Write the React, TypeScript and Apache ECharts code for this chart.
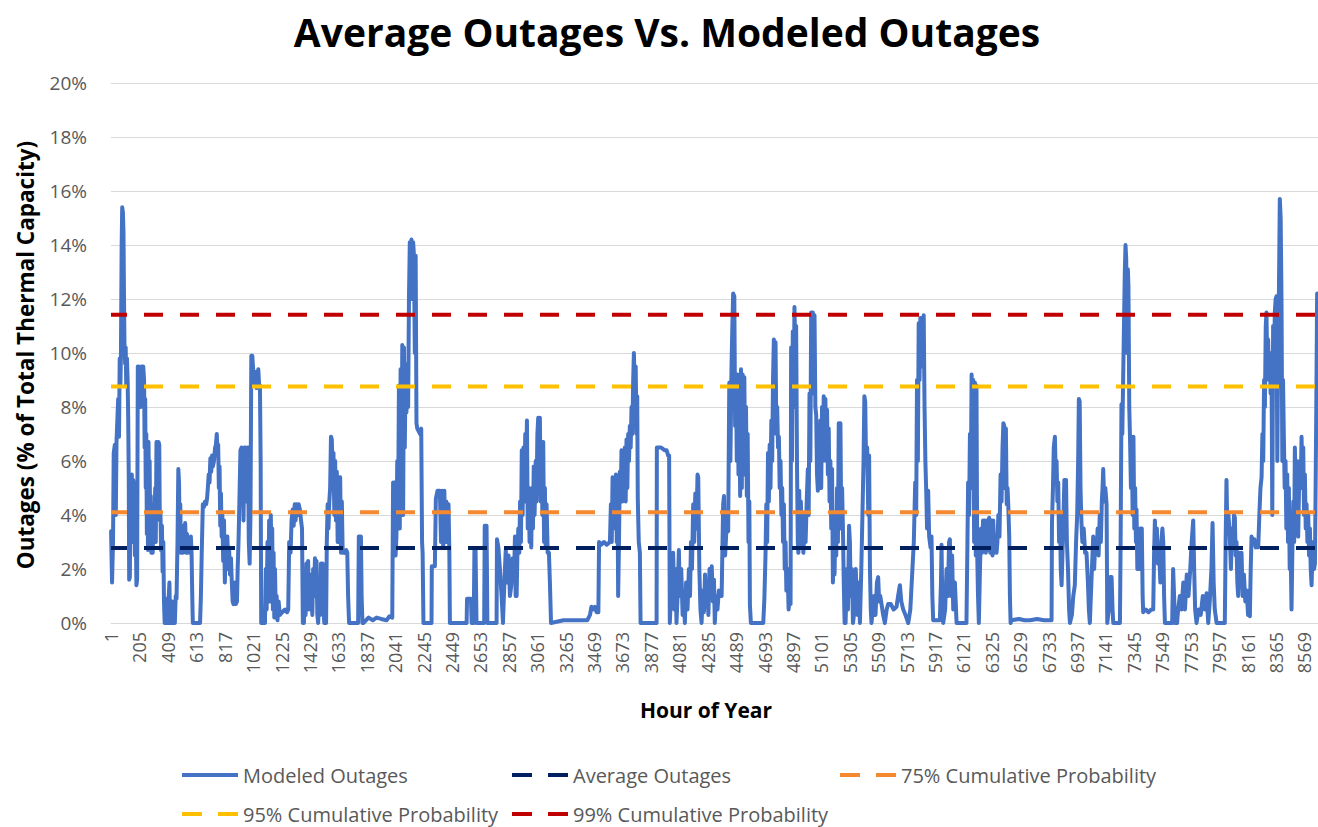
import React, { useEffect, useRef } from "react";
import * as echarts from "echarts";

// Modeled outages: [hour of year, % of total thermal capacity]
const modeledOutages: [number, number][] = [
  [1,3.4],[8,1.5],[15,3.0],[20,6.3],[28,6.6],[35,4.0],[40,6.7],[46,7.5],[52,8.3],[58,6.9],[63,9.8],[68,8.8],[72,10.0],[77,14.0],[81,15.4],[86,15.2],[90,14.5],[94,12.0],[97,10.4],[102,9.6],[106,10.2],[110,8.8],[115,9.8],[120,9.0],[124,7.6],[128,5.4],[131,1.6],[136,1.7],[140,5.5],[145,4.2],[150,5.5],[155,3.0],[160,5.3],[166,5.0],[172,2.5],[178,3.8],[183,1.4],[188,1.6],[193,9.5],[200,9.5],[208,9.3],[214,8.0],[219,9.5],[226,8.3],[232,9.5],[238,9.0],[242,6.5],[246,8.3],[250,5.0],[254,7.0],[258,3.3],[262,6.6],[266,2.7],[270,6.7],[274,4.0],[278,6.0],[282,3.0],[286,4.7],[290,2.6],[296,3.5],[300,2.6],[306,4.4],[312,3.4],[318,5.0],[322,3.0],[327,6.7],[333,6.7],[338,4.5],[342,6.7],[347,6.6],[351,3.8],[356,4.0],[360,2.7],[366,3.6],[371,1.9],[376,3.0],[381,0.8],[386,0],
  [400,0.9],[405,0],[420,1.5],[425,0],[440,0.8],[445,0],[459,0],[465,1.0],[471,0.9],[478,3.0],[484,5.7],[489,5.2],[494,3.0],[498,4.4],[502,2.6],[510,3.3],[516,2.6],[522,3.6],[528,3.1],[533,3.7],[540,2.6],[546,3.3],[552,2.6],[558,3.0],[566,2.6],[574,3.2],[579,2.6],[584,1.0],[588,0],[640,0],[646,1.0],[652,2.6],[660,4.4],[668,4.3],[676,4.5],[684,4.4],[690,4.6],[696,5.0],[702,5.5],[708,5.2],[714,6.1],[720,5.6],[726,6.2],[732,5.8],[740,6.0],[748,6.5],[754,6.6],[760,7.0],[765,6.4],[770,6.6],[775,5.0],[780,5.8],[785,3.6],[790,4.8],[795,3.2],[800,4.0],[806,2.3],[812,3.8],[818,1.5],[824,3.2],[830,2.5],[836,3.2],[842,2.0],[848,2.8],[855,1.8],[862,2.4],[868,1.5],[874,0.8],[880,0.7],[890,1.5],[897,0.7],[905,0.8],[910,2.0],[916,3.0],[922,4.4],[930,6.4],[938,6.5],[946,6.4],[952,3.8],[958,6.5],[965,6.5],[972,4.5],[978,6.4],[984,6.5],[990,3.0],[996,2.2],[1002,4.0],[1008,9.9],[1015,9.9],[1020,9.5],[1026,9.0],[1032,8.8],[1040,9.3],[1046,8.7],[1052,8.8],[1058,9.4],[1064,8.8],[1070,8.8],[1075,6.0],[1079,0],
  [1106,0],[1112,2.0],[1118,0.5],[1124,3.0],[1130,1.0],[1136,3.8],[1142,0.8],[1148,4.0],[1153,2.0],[1158,3.5],[1163,0.5],[1168,2.6],[1173,0.2],[1178,2.0],[1184,0.2],[1190,1.0],[1196,0.1],[1204,0.8],[1213,0.3],[1230,0.4],[1250,0.5],[1265,0.4],[1273,0.5],[1280,3.0],[1290,2.6],[1297,3.8],[1305,4.2],[1312,3.6],[1320,4.4],[1326,3.8],[1333,4.4],[1340,4.0],[1348,4.4],[1357,4.2],[1365,3.8],[1372,3.5],[1378,0],[1386,0],[1392,1.5],[1398,0.3],[1404,2.2],[1410,1.0],[1416,2.3],[1422,0.5],[1428,1.8],[1433,0.7],[1440,1.5],[1446,0.3],[1452,2.0],[1458,1.0],[1465,2.4],[1470,1.0],[1476,2.3],[1482,0.3],[1488,0],[1496,1.0],[1502,0.3],[1508,2.2],[1514,1.5],[1520,2.2],[1526,0.5],[1532,0],[1545,0],[1550,3.0],[1556,4.4],[1562,3.5],[1568,4.5],[1574,5.0],[1580,6.9],[1586,6.8],[1592,5.5],[1598,6.3],[1604,4.0],[1610,6.0],[1616,3.8],[1622,5.6],[1628,3.0],[1634,5.4],[1640,3.2],[1646,5.4],[1652,2.6],[1658,4.5],[1664,2.6],[1670,2.7],[1680,2.6],[1690,2.7],[1697,2.6],[1703,1.0],[1710,0],[1775,0],[1780,3.2],[1795,3.2],[1800,1.0],[1806,0],[1812,0],[1850,0.2],[1880,0.1],[1907,0.2],[1940,0.15],[1979,0.1],[2000,0.25],[2020,0.2],[2026,5.2],[2032,3.0],[2038,5.2],[2044,2.5],[2050,3.2],[2056,6.0],[2062,4.0],[2068,8.8],[2074,3.5],[2080,9.4],[2086,5.0],[2092,10.3],[2098,4.0],[2104,10.2],[2110,6.5],[2116,9.4],[2122,7.8],[2128,9.6],[2134,8.0],[2140,12.0],[2146,14.1],[2152,13.5],[2158,14.2],[2164,12.0],[2170,14.1],[2176,13.6],[2182,10.0],[2188,13.6],[2194,7.4],[2200,7.2],[2210,7.1],[2220,7.0],[2228,7.2],[2234,3.0],[2238,2.6],[2244,0],
  [2302,0],[2304,2.1],[2326,2.1],[2333,4.6],[2345,4.9],[2362,4.9],[2370,3.0],[2378,4.9],[2386,2.8],[2394,4.9],[2400,3.0],[2408,4.5],[2416,3.0],[2424,4.4],[2430,2.6],[2434,0],[2554,0],[2557,0.9],[2585,0.9],[2590,0],[2605,0],[2610,2.7],[2618,2.7],[2625,0],[2680,0],[2684,3.6],[2697,3.6],[2703,0],[2769,0],[2772,3.1],[2782,2.8],[2793,2.0],[2805,1.0],[2815,0],[2825,1.5],[2835,2.7],[2845,1.5],[2855,2.5],[2865,1.0],[2875,1.4],[2885,2.4],[2895,1.8],[2901,3.2],[2906,1.0],[2913,1.0],[2918,2.4],[2925,3.5],[2932,2.6],[2938,4.5],[2944,3.0],[2950,6.4],[2956,4.0],[2962,6.5],[2968,4.5],[2975,7.0],[2981,5.5],[2987,7.5],[2993,3.5],[3000,5.0],[3006,3.0],[3012,4.4],[3018,2.8],[3024,5.0],[3030,3.5],[3036,5.8],[3042,4.0],[3050,6.0],[3056,4.5],[3062,7.0],[3068,7.6],[3074,5.0],[3080,7.6],[3086,4.5],[3092,6.7],[3098,4.0],[3104,6.7],[3110,3.0],[3116,5.0],[3122,2.8],[3128,4.4],[3136,2.6],[3145,2.6],[3152,1.5],[3160,0],[3250,0.1],[3350,0.1],[3420,0.1],[3440,0.3],[3450,0.6],[3460,0.5],[3475,0.6],[3487,0.4],[3500,0.4],[3505,3.0],[3520,2.9],[3540,3.0],[3560,2.9],[3583,3.0],[3590,4.4],[3596,3.0],[3602,5.4],[3608,3.5],[3614,5.0],[3620,4.0],[3626,5.5],[3632,3.0],[3638,4.5],[3642,1.0],[3648,3.0],[3654,5.6],[3660,4.5],[3666,6.4],[3672,4.5],[3678,6.0],[3684,5.0],[3690,6.5],[3696,4.5],[3702,6.8],[3708,5.0],[3714,7.0],[3720,6.0],[3726,7.3],[3732,6.5],[3738,8.0],[3744,7.0],[3750,9.0],[3755,10.0],[3762,8.5],[3768,9.5],[3774,7.0],[3779,8.4],[3783,4.6],[3790,3.0],[3798,2.6],[3803,0],[3918,0],[3920,6.5],[3950,6.5],[3975,6.4],[3990,6.4],[4001,6.2],[4008,6.2],[4013,0],[4025,1.5],[4037,2.6],[4045,0.5],[4053,2.0],[4061,0],[4070,1.2],[4078,2.7],[4085,1.0],[4095,2.0],[4105,0.3],[4112,1.0],[4121,0],[4130,1.5],[4140,0.5],[4150,2.0],[4158,1.0],[4165,3.0],[4172,2.0],[4181,4.4],[4188,3.0],[4196,4.8],[4204,3.5],[4212,5.5],[4217,5.4],[4225,2.0],[4233,0.5],[4241,0],[4250,1.2],[4258,0.4],[4266,1.8],[4274,0.6],[4282,1.5],[4290,0.3],[4298,2.0],[4306,1.0],[4314,2.1],[4322,0.8],[4330,1.6],[4336,0],[4345,1.0],[4355,0.5],[4365,1.2],[4373,1.0],[4385,1.0],[4396,4.4],[4402,4.7],[4410,2.5],[4420,3.5],[4432,3.4],
  [4440,8.9],[4448,6.0],[4456,9.5],[4462,11.0],[4468,12.2],[4476,12.1],[4482,7.3],[4488,9.0],[4494,6.0],[4500,9.2],[4506,5.5],[4512,8.5],[4518,4.7],[4524,9.4],[4530,5.0],[4536,9.2],[4542,6.0],[4548,9.1],[4554,5.5],[4560,8.0],[4566,4.7],[4572,7.0],[4578,3.0],[4584,4.5],[4588,0.7],[4595,0],[4684,0],[4692,0.9],[4700,2.5],[4706,4.4],[4712,3.0],[4718,6.3],[4724,4.5],[4730,6.6],[4736,5.0],[4742,7.5],[4748,6.0],[4754,9.0],[4760,10.5],[4766,8.0],[4772,10.4],[4778,7.0],[4784,8.0],[4790,6.5],[4796,6.9],[4802,5.0],[4808,6.0],[4814,4.0],[4820,5.0],[4826,3.0],[4832,4.4],[4838,2.0],[4844,3.0],[4850,1.2],[4858,2.0],[4866,0.5],[4874,1.0],[4880,0.7],[4884,10.2],[4890,6.0],[4896,10.8],[4902,8.0],[4908,11.7],[4914,10.0],[4920,11.0],[4926,6.0],[4932,3.0],[4936,2.6],[4942,4.9],[4948,3.0],[4954,4.5],[4960,2.8],[4966,4.0],[4972,2.6],[4980,3.5],[4988,3.0],[4996,4.5],[5004,5.7],[5010,4.0],[5016,8.5],[5022,6.0],[5028,11.5],[5034,9.0],[5040,11.5],[5046,8.5],[5052,11.4],[5058,8.0],[5064,7.7],[5070,5.5],[5076,4.9],[5082,6.5],[5088,5.0],[5094,7.5],[5100,5.0],[5106,8.0],[5112,6.0],[5118,8.4],[5124,6.5],[5130,8.3],[5136,6.0],[5142,7.9],[5148,5.5],[5154,7.2],[5160,4.5],[5166,6.0],[5172,3.5],[5178,5.7],[5184,1.5],[5190,3.0],[5196,1.8],[5202,4.0],[5208,2.5],[5214,5.0],[5220,3.0],[5226,7.4],[5232,5.0],[5238,7.4],[5244,3.5],[5250,5.0],[5256,3.5],[5262,1.5],[5268,0],[5275,0],[5285,2.0],[5292,0.5],[5300,3.6],[5306,3.0],[5312,1.0],[5320,2.0],[5328,0],[5340,0.5],[5348,2.0],[5355,1.0],[5362,0.3],[5370,1.5],[5378,0],[5388,2.0],[5396,4.0],[5404,6.0],[5410,8.4],[5416,8.2],[5422,6.0],[5430,6.5],[5438,4.0],[5444,6.2],[5450,2.0],[5456,0.5],[5461,0],[5470,0.5],[5480,1.0],[5490,0.3],[5500,1.5],[5509,1.7],[5516,0.8],[5524,1.0],[5533,0.7],[5545,0.3],[5557,0],[5570,0.5],[5581,0.7],[5600,0.7],[5620,0.5],[5641,0.6],[5652,1.0],[5665,1.4],[5675,0.8],[5689,0.5],[5705,0.3],[5725,0],[5740,0.5],[5755,2.0],[5765,3.0],[5775,5.2],[5782,4.0],[5788,9.0],[5794,6.0],[5800,11.1],[5806,9.0],[5812,11.3],[5818,9.5],[5824,11.3],[5830,10.0],[5836,11.4],[5842,8.0],[5848,6.0],[5854,4.9],[5860,3.5],[5868,4.9],[5875,3.2],[5885,2.8],[5892,3.2],[5898,1.0],[5904,0.1],[5952,0.1],[5960,1.5],[5964,2.9],[5970,0.5],[5976,0],[5990,0.5],[6000,2.0],[6010,1.0],[6018,3.0],[6024,3.1],[6032,1.0],[6040,2.5],[6048,0.5],[6060,1.5],[6072,0],[6143,0],[6150,3.0],[6155,5.2],[6162,4.0],[6168,7.0],[6174,5.0],[6180,9.2],[6186,7.0],[6192,9.0],[6198,3.0],[6204,8.9],[6210,2.5],[6215,8.8],[6220,2.6],[6226,1.0],[6232,0],[6240,2.0],[6248,3.5],[6255,2.6],[6262,3.8],[6268,2.8],[6275,3.8],[6282,2.6],[6290,3.8],[6298,2.7],[6306,3.9],[6314,2.6],[6322,3.8],[6330,2.5],[6335,3.8],[6342,2.6],[6350,3.0],[6359,2.6],[6365,3.0],[6372,4.0],[6380,3.2],[6388,5.5],[6395,4.5],[6402,6.5],[6408,7.4],[6414,7.3],[6420,5.0],[6426,7.2],[6432,4.4],[6438,5.0],[6443,4.4],[6450,3.2],[6455,1.0],[6460,0],
  [6467,0.1],[6520,0.15],[6560,0.1],[6600,0.1],[6650,0.15],[6700,0.1],[6754,0.1],[6757,3.7],[6764,5.0],[6770,6.5],[6778,6.9],[6784,5.5],[6790,6.0],[6796,4.5],[6802,5.2],[6808,3.0],[6815,4.0],[6820,2.0],[6826,1.4],[6832,2.5],[6840,4.0],[6846,5.3],[6852,4.0],[6858,5.3],[6864,3.0],[6872,2.0],[6880,0.5],[6886,0],[6900,0.3],[6910,1.0],[6921,1.4],[6930,3.0],[6938,4.0],[6945,6.0],[6950,8.3],[6956,8.2],[6962,5.0],[6968,3.8],[6975,3.0],[6985,3.5],[6995,2.6],[7005,2.6],[7015,1.5],[7022,0.5],[7029,0],[7040,1.5],[7053,3.2],[7060,2.0],[7068,3.0],[7077,2.6],[7085,3.5],[7092,2.5],[7100,4.0],[7108,3.0],[7115,4.5],[7120,5.0],[7125,5.7],[7132,4.5],[7140,5.0],[7149,4.4],[7152,2.0],[7154,0],[7165,0.5],[7175,1.7],[7185,1.7],[7192,0.5],[7197,0],[7245,0],[7250,3.0],[7256,8.1],[7262,7.0],[7268,9.0],[7274,11.0],[7280,13.0],[7285,14.0],[7290,13.5],[7296,10.0],[7302,13.1],[7306,12.5],[7312,8.0],[7318,6.7],[7324,5.0],[7330,6.9],[7336,4.0],[7342,6.9],[7348,3.5],[7354,5.0],[7360,3.0],[7364,4.2],[7370,2.0],[7376,2.8],[7382,2.0],[7390,3.5],[7396,2.5],[7402,3.5],[7408,1.0],[7412,0.4],[7430,0.5],[7450,0.4],[7470,0.5],[7484,0.5],[7490,2.5],[7496,3.8],[7503,2.6],[7510,3.5],[7518,2.2],[7527,2.6],[7535,1.5],[7542,3.0],[7550,3.5],[7556,3.0],[7562,1.0],[7568,0],[7620,0],[7627,2.0],[7634,1.0],[7640,0],[7655,0],[7663,0.5],[7675,1.0],[7687,0.5],[7700,1.5],[7712,0.5],[7725,1.8],[7737,1.0],[7750,2.0],[7760,3.0],[7771,3.8],[7778,2.0],[7785,0.5],[7795,0],[7810,0.5],[7825,0.3],[7840,1.0],[7855,0.5],[7867,1.1],[7879,0],[7890,0.8],[7902,2.0],[7910,3.7],[7918,1.5],[7926,0.5],[7939,0],[7998,0],[8004,3.0],[8010,5.3],[8016,3.5],[8024,4.0],[8034,3.2],[8042,2.0],[8050,3.5],[8058,2.8],[8064,4.0],[8070,3.9],[8076,2.5],[8082,3.0],[8088,1.5],[8094,1.0],[8100,2.0],[8106,2.6],[8112,1.5],[8118,2.6],[8126,1.0],[8135,1.8],[8145,0.8],[8155,1.2],[8165,0.3],[8172,1.0],[8178,0.25],[8184,2.0],[8190,3.2],[8200,3.0],[8210,3.1],[8220,2.8],[8230,3.0],[8238,2.8],[8246,4.0],[8254,5.0],[8262,5.4],[8268,7.0],[8274,6.0],[8280,9.0],[8286,8.0],[8292,11.0],[8297,11.5],[8303,9.5],[8309,10.5],[8315,9.0],[8321,10.0],[8327,8.5],[8333,9.9],[8339,4.0],[8345,11.0],[8351,9.0],[8357,11.5],[8363,12.0],[8369,12.1],[8375,6.0],[8381,10.0],[8387,12.5],[8393,15.7],[8399,15.0],[8405,12.0],[8411,6.0],[8416,9.0],[8422,6.9],[8428,5.0],[8434,6.0],[8440,3.5],[8446,5.5],[8452,3.0],[8458,5.0],[8464,2.0],[8470,3.0],[8477,0.5],[8484,3.0],[8490,4.5],[8496,3.0],[8501,6.5],[8507,5.0],[8513,6.0],[8519,4.0],[8525,3.2],[8531,5.0],[8537,6.0],[8543,5.0],[8549,6.9],[8555,5.5],[8561,6.5],[8567,4.0],[8573,5.5],[8579,3.5],[8585,4.4],[8591,3.0],[8597,4.0],[8603,2.5],[8609,3.5],[8615,2.0],[8621,1.4],[8627,2.5],[8633,3.0],[8639,2.0],[8645,2.2],[8650,5.0],[8655,8.0],[8661,12.2],[8666,12.0]
];

const averageOutages = 2.78;
const cumulative75 = 4.1;
const cumulative95 = 8.76;
const cumulative99 = 11.42;

const xTickLabels = [
  1, 205, 409, 613, 817, 1021, 1225, 1429, 1633, 1837, 2041, 2245, 2449, 2653, 2857, 3061, 3265, 3469,
  3673, 3877, 4081, 4285, 4489, 4693, 4897, 5101, 5305, 5509, 5713, 5917, 6121, 6325, 6529, 6733, 6937,
  7141, 7345, 7549, 7753, 7957, 8161, 8365, 8569
];

const seriesNames = [
  "Modeled Outages",
  "Average Outages",
  "75% Cumulative Probability",
  "95% Cumulative Probability",
  "99% Cumulative Probability"
];

const FONT = "Open Sans";
const SOLID_ICON = "path://M0 0H56V4H0Z";
const DASH_ICON = "path://M0 0H20V4H0Z M36 0H56V4H36Z";

export default function App() {
  const ref = useRef<HTMLDivElement>(null);

  useEffect(() => {
    if (!ref.current) return;
    const chart = echarts.init(ref.current, null, { renderer: "svg" });

    const X_MIN = 0.5;
    const X_MAX = 8760.5;
    const dash = [19, 17];

    const flat = (name: string, value: number, color: string) => ({
      name,
      type: "line",
      data: [
        [X_MIN, value],
        [X_MAX, value]
      ],
      symbol: "none",
      silent: true,
      lineStyle: { color, width: 4, type: dash, dashOffset: 3 },
      itemStyle: { color }
    });

    const legendBase = {
      orient: "horizontal",
      padding: 0,
      itemWidth: 56,
      itemHeight: 4,
      selectedMode: false,
      itemStyle: { borderWidth: 0 },
      textStyle: { fontFamily: FONT, fontSize: 20, color: "#595959", lineHeight: 24 }
    };

    const option = {
      animation: false,
      backgroundColor: "#ffffff",
      textStyle: { fontFamily: FONT },
      grid: {
        left: 111,
        right: -13,
        top: 83,
        bottom: 204,
        containLabel: false,
        outerBoundsMode: "none"
      },
      xAxis: {
        type: "value",
        min: X_MIN,
        max: X_MAX,
        axisLine: { show: true, lineStyle: { color: "#D9D9D9", width: 1 } },
        axisTick: { show: false },
        splitLine: { show: false },
        axisLabel: {
          customValues: xTickLabels,
          formatter: (v: number) => String(Math.round(v)),
          rotate: 90,
          margin: 9,
          fontFamily: FONT,
          fontSize: 18,
          color: "#595959"
        }
      },
      yAxis: {
        type: "value",
        min: 0,
        max: 20,
        interval: 2,
        axisLine: { show: false },
        axisTick: { show: false },
        splitLine: { lineStyle: { color: "#D9D9D9", width: 1 } },
        axisLabel: {
          formatter: "{value}%",
          margin: 24,
          fontFamily: FONT,
          fontSize: 19,
          color: "#595959"
        }
      },
      legend: [
        { ...legendBase, icon: SOLID_ICON, data: [seriesNames[0]], left: 182, top: 763 },
        { ...legendBase, icon: DASH_ICON, data: [seriesNames[1]], left: 512, top: 763 },
        { ...legendBase, icon: DASH_ICON, data: [seriesNames[2]], left: 840, top: 763 },
        { ...legendBase, icon: DASH_ICON, data: [seriesNames[3]], left: 182, top: 802 },
        { ...legendBase, icon: DASH_ICON, data: [seriesNames[4]], left: 512, top: 802 }
      ],
      graphic: [
        {
          type: "text",
          x: 667,
          y: 31,
          style: {
            text: "Average Outages Vs. Modeled Outages",
            fontFamily: FONT,
            fontWeight: "bold",
            fontSize: 39,
            fill: "#000000",
            textAlign: "center",
            textVerticalAlign: "middle"
          }
        },
        {
          type: "text",
          x: 25,
          y: 355,
          rotation: Math.PI / 2,
          style: {
            text: "Outages (% of Total Thermal Capacity)",
            fontFamily: FONT,
            fontWeight: "bold",
            fontSize: 22.5,
            fill: "#000000",
            textAlign: "center",
            textVerticalAlign: "middle"
          }
        },
        {
          type: "text",
          x: 706,
          y: 710,
          style: {
            text: "Hour of Year",
            fontFamily: FONT,
            fontWeight: "bold",
            fontSize: 21,
            fill: "#000000",
            textAlign: "center",
            textVerticalAlign: "middle"
          }
        }
      ],
      series: [
        {
          name: seriesNames[0],
          type: "line",
          data: modeledOutages,
          symbol: "none",
          silent: true,
          lineStyle: { color: "#4472C4", width: 4, join: "round", cap: "round" },
          itemStyle: { color: "#4472C4" }
        },
        flat(seriesNames[1], averageOutages, "#002060"),
        flat(seriesNames[2], cumulative75, "#F4892F"),
        flat(seriesNames[3], cumulative95, "#FFC000"),
        flat(seriesNames[4], cumulative99, "#C00000")
      ]
    };

    chart.setOption(option as any);
    return () => chart.dispose();
  }, []);

  return (
    <div
      ref={ref}
      style={{ position: "fixed", left: 0, top: 0, width: 1318, height: 827, overflow: "hidden" }}
    />
  );
}
